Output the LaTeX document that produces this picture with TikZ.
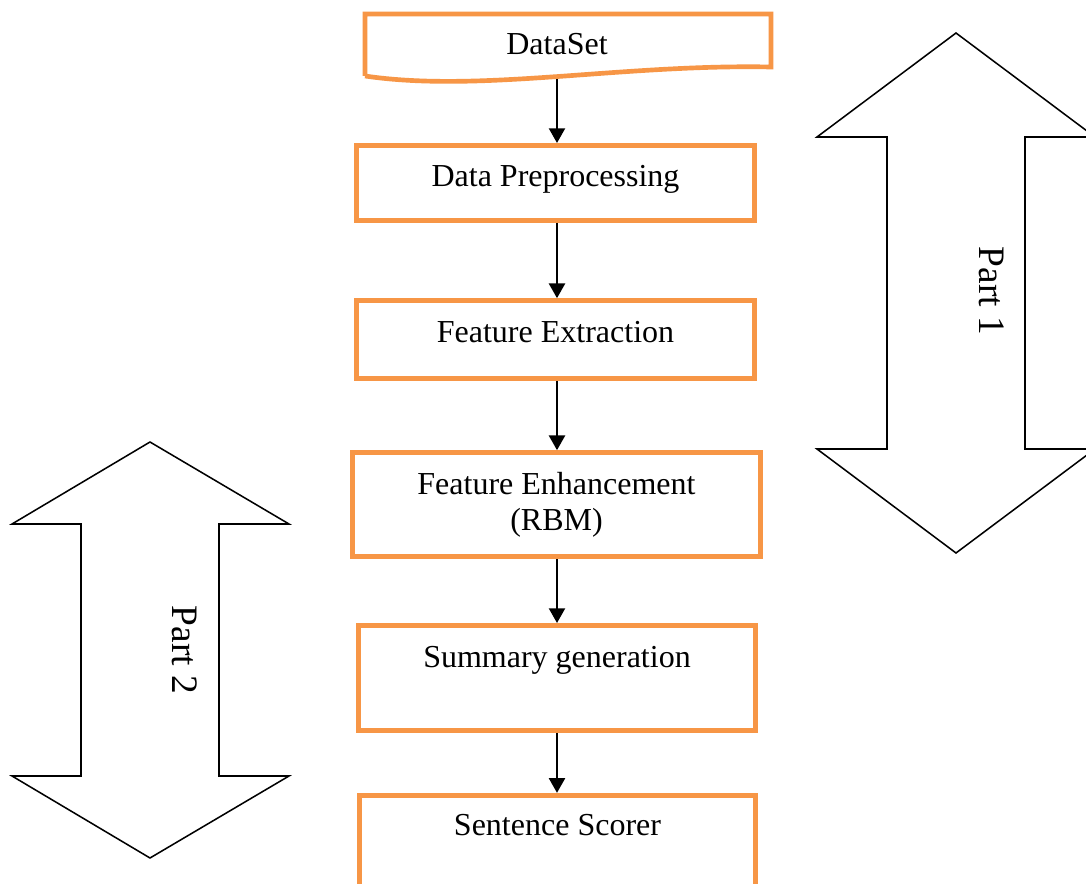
\documentclass[tikz,border=0pt]{standalone}
\usepackage{fontspec}
\setmainfont{Liberation Serif}
\usetikzlibrary{arrows.meta}
\definecolor{flowedge}{RGB}{247,150,70}
\tikzset{
  box/.style={draw=flowedge, line width=3.5pt, fill=white, inner sep=0pt},
  boxtext/.style={font=\fontsize{24}{27}\selectfont, inner sep=0pt, anchor=base},
  flow/.style={line width=1.6pt, -{Triangle[width=12pt,length=11pt]}},
  bigarrow/.style={draw=black, line width=1.15pt, line join=miter, fill=white},
  parttext/.style={font=\fontsize{28}{30}\selectfont, inner sep=0pt, rotate=-90},
}
\begin{document}
\begin{tikzpicture}[x=0.75pt,y=-0.75pt]
\useasboundingbox (0,0) rectangle (1086,884);
\clip (0,0) rectangle (1086,884);
\fill[white] (0,0) rectangle (1086,884);

% vertical axis of the flow connectors
\coordinate (axis) at (557,0);

% Part 1 double-headed arrow (right side)
\draw[bigarrow] (956,33) -- (1095,137) -- (1025,137) -- (1025,449)
  -- (1095,449) -- (956,553) -- (817,449) -- (887,449) -- (887,137)
  -- (817,137) -- cycle;
\node[parttext] (p1) at (992,291) {Part 1};

% Part 2 double-headed arrow (left side)
\draw[bigarrow] (150,442) -- (289,524) -- (219,524) -- (219,776)
  -- (289,776) -- (150,858) -- (12,776) -- (81,776) -- (81,524)
  -- (12,524) -- cycle;
\node[parttext] (p2) at (185,650) {Part 2};

% DataSet: document shape with a wavy lower edge
\draw[draw=flowedge, line width=3.5pt, line join=miter, fill=white]
  (365,76) -- (365,14) -- (771,14) -- (771,67)
  .. controls (620,64) and (480,93) .. (365,76);
\node[boxtext] (ds) at (557,55) {DataSet};
\coordinate (ds-out) at (557,79);

% process boxes
\node[box, minimum width=298.5pt, minimum height=56.5pt] (dp) at (555.5,183) {};
\node[boxtext] (dp-t) at (555.5,187) {Data Preprocessing};

\node[box, minimum width=298.5pt, minimum height=58.5pt] (fe) at (555.5,339.5) {};
\node[boxtext] (fe-t) at (555.5,343) {Feature Extraction};

\node[box, minimum width=306pt, minimum height=78pt, align=center,
  font=\fontsize{24}{27}\selectfont] (fen) at (556.5,504.5)
  {Feature Enhancement\\(RBM)};

\node[box, minimum width=298pt, minimum height=79pt] (sg) at (557,678) {};
\node[boxtext] (sg-t) at (557,667) {Summary generation};

\node[box, minimum width=297pt, minimum height=92pt] (ss) at (557.5,856.5) {};
\node[boxtext] (ss-t) at (557.5,835) {Sentence Scorer};

% flow connectors
\draw[flow] (ds-out) -- (dp.north -| axis);
\draw[flow] (dp.south -| axis) -- (fe.north -| axis);
\draw[flow] (fe.south -| axis) -- (fen.north -| axis);
\draw[flow] (fen.south -| axis) -- (sg.north -| axis);
\draw[flow] (sg.south -| axis) -- (ss.north -| axis);
\end{tikzpicture}
\end{document}
